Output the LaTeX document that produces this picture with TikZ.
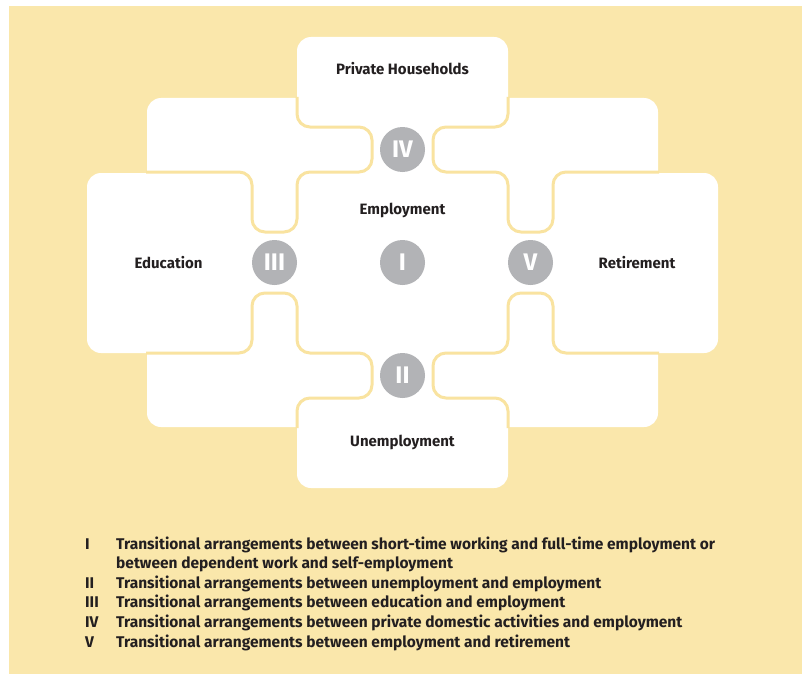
\documentclass[tikz,border=0pt]{standalone}
\usepackage{fontspec}
\setmainfont{Fira Sans}
\definecolor{bgyellow}{HTML}{FAE7AB}
\definecolor{lineyellow}{HTML}{F9E3A0}
\definecolor{circgray}{HTML}{B2B3B6}
\definecolor{textc}{HTML}{231F20}
\tikzset{
  box/.style={fill=white, draw=none, rounded corners=14pt, inner sep=0pt, outer sep=0pt},
  seam/.style={draw=lineyellow, line width=3pt, rounded corners=13pt},
  numcirc/.style={circle, fill=circgray, minimum size=45pt, inner sep=0pt, text=white, font=\fontsize{24}{24}\selectfont\bfseries},
  lbl/.style={text=textc, font=\fontsize{15}{17}\selectfont\bfseries, anchor=base, inner sep=0pt},
  leg/.style={text=textc, font=\fontsize{15.5}{18}\selectfont\bfseries, anchor=base west, inner sep=0pt},
}
\begin{document}
\begin{tikzpicture}[x=1pt, y=-1pt]
\useasboundingbox (0,0) rectangle (802,674);
\fill[bgyellow] (9,6) rectangle (802,674);
% boxes
\node[box, minimum width=511pt, minimum height=329pt] (big) at (402.5,262.5) {};
\node[box, minimum width=211pt, minimum height=90pt] (phbox) at (402.5,82) {};
\node[box, minimum width=165pt, minimum height=180pt] (edubox) at (169.5,263) {};
\node[box, minimum width=165pt, minimum height=180pt] (retbox) at (635.5,263) {};
\node[box, minimum width=211pt, minimum height=90pt] (unbox) at (402.5,443) {};
% seams
\draw[seam] (297,97) -- (297,127) -- (372,127) -- (372,172) -- (297,172) -- (297,232) -- (252,232) -- (252,172) -- (146,172);
\draw[seam] (508,97) -- (508,127) -- (433,127) -- (433,172) -- (508,172) -- (508,232) -- (553,232) -- (553,172) -- (659,172);
\draw[seam] (297,428) -- (297,398) -- (372,398) -- (372,353) -- (297,353) -- (297,293) -- (252,293) -- (252,353) -- (146,353);
\draw[seam] (508,428) -- (508,398) -- (433,398) -- (433,353) -- (508,353) -- (508,293) -- (553,293) -- (553,353) -- (659,353);
% circles
\node[numcirc] (cIV) at (402.5,149.5) {IV};
\node[numcirc] (cIII) at (274.5,262.5) {III};
\node[numcirc] (cI) at (402.5,262.5) {I};
\node[numcirc] (cV) at (530.5,262.5) {V};
\node[numcirc] (cII) at (402.5,375.5) {II};
% labels
\node[lbl] (lph) at (402.5,75) {Private Households};
\node[lbl] (lemp) at (402.5,214) {Employment};
\node[lbl] (ledu) at (168.5,268) {Education};
\node[lbl] (lret) at (637,268) {Retirement};
\node[lbl] (lun) at (402.5,446) {Unemployment};
% legend
\node[leg] (n1) at (85,549) {I};
\node[leg] (t1) at (116,549) {Transitional arrangements between short-time working and full-time employment or};
\node[leg] (t1b) at (116,568.6) {between dependent work and self-employment};
\node[leg] (n2) at (85,588.2) {II};
\node[leg] (t2) at (116,588.2) {Transitional arrangements between unemployment and employment};
\node[leg] (n3) at (85,607.8) {III};
\node[leg] (t3) at (116,607.8) {Transitional arrangements between education and employment};
\node[leg] (n4) at (85,627.4) {IV};
\node[leg] (t4) at (116,627.4) {Transitional arrangements between private domestic activities and employment};
\node[leg] (n5) at (85,647) {V};
\node[leg] (t5) at (116,647) {Transitional arrangements between employment and retirement};
\end{tikzpicture}
\end{document}
